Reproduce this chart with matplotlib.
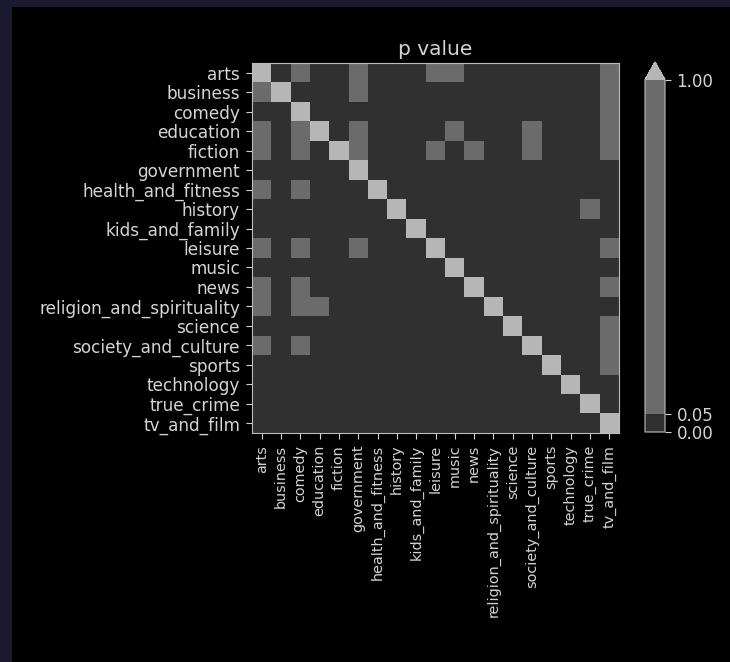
import matplotlib
matplotlib.use('Agg')
import matplotlib.pyplot as plt
from matplotlib.colors import ListedColormap, BoundaryNorm
from matplotlib.patches import Rectangle
import numpy as np

categories = ['arts', 'business', 'comedy', 'education', 'fiction', 'government',
              'health_and_fitness', 'history', 'kids_and_family', 'leisure', 'music',
              'news', 'religion_and_spirituality', 'science', 'society_and_culture',
              'sports', 'technology', 'true_crime', 'tv_and_film']

# estimated p values (dark cells < 0.05, mid cells between 0.05 and 1, diagonal = 1)
p_values = [
    [1, 0, .5, 0, 0, .5, 0, 0, 0, .5, .5, 0, 0, 0, 0, 0, 0, 0, .5],
    [.5, 1, 0, 0, 0, .5, 0, 0, 0, 0, 0, 0, 0, 0, 0, 0, 0, 0, .5],
    [0, 0, 1, 0, 0, 0, 0, 0, 0, 0, 0, 0, 0, 0, 0, 0, 0, 0, .5],
    [.5, 0, .5, 1, 0, .5, 0, 0, 0, 0, .5, 0, 0, 0, .5, 0, 0, 0, .5],
    [.5, 0, .5, 0, 1, .5, 0, 0, 0, .5, 0, .5, 0, 0, .5, 0, 0, 0, .5],
    [0, 0, 0, 0, 0, 1, 0, 0, 0, 0, 0, 0, 0, 0, 0, 0, 0, 0, 0],
    [.5, 0, .5, 0, 0, 0, 1, 0, 0, 0, 0, 0, 0, 0, 0, 0, 0, 0, 0],
    [0, 0, 0, 0, 0, 0, 0, 1, 0, 0, 0, 0, 0, 0, 0, 0, 0, .5, 0],
    [0, 0, 0, 0, 0, 0, 0, 0, 1, 0, 0, 0, 0, 0, 0, 0, 0, 0, 0],
    [.5, 0, .5, 0, 0, .5, 0, 0, 0, 1, 0, 0, 0, 0, 0, 0, 0, 0, .5],
    [0, 0, 0, 0, 0, 0, 0, 0, 0, 0, 1, 0, 0, 0, 0, 0, 0, 0, 0],
    [.5, 0, .5, 0, 0, 0, 0, 0, 0, 0, 0, 1, 0, 0, 0, 0, 0, 0, .5],
    [.5, 0, .5, .5, 0, 0, 0, 0, 0, 0, 0, 0, 1, 0, 0, 0, 0, 0, 0],
    [0, 0, 0, 0, 0, 0, 0, 0, 0, 0, 0, 0, 0, 1, 0, 0, 0, 0, .5],
    [.5, 0, .5, 0, 0, 0, 0, 0, 0, 0, 0, 0, 0, 0, 1, 0, 0, 0, .5],
    [0, 0, 0, 0, 0, 0, 0, 0, 0, 0, 0, 0, 0, 0, 0, 1, 0, 0, .5],
    [0, 0, 0, 0, 0, 0, 0, 0, 0, 0, 0, 0, 0, 0, 0, 0, 1, 0, 0],
    [0, 0, 0, 0, 0, 0, 0, 0, 0, 0, 0, 0, 0, 0, 0, 0, 0, 1, 0],
    [0, 0, 0, 0, 0, 0, 0, 0, 0, 0, 0, 0, 0, 0, 0, 0, 0, 0, 1],
]
bounds = [0, 0.05, 1.0]

txt = '#d4d4d4'
edge = '#bdbdbd'
plt.rcParams['text.color'] = txt
plt.rcParams['xtick.color'] = txt
plt.rcParams['ytick.color'] = txt
plt.rcParams['axes.edgecolor'] = edge

fig = plt.figure(figsize=(7.30, 6.62), dpi=100, facecolor='#1b1a30')
fig.patches.append(Rectangle((12/730, 0), 1, (662-7)/662, transform=fig.transFigure,
                             facecolor='black', edgecolor='none', zorder=-1))

cmap = ListedColormap(['#303030', '#6b6b6b'])
cmap.set_over('#b6b6b6')
norm = BoundaryNorm(bounds, cmap.N)

ax = fig.add_axes([252/730, 1-433/662, 367/730, 370/662])
im = ax.imshow(np.array(p_values), cmap=cmap, norm=norm, aspect='auto')
ax.set_xticks(range(len(categories)))
ax.set_xticklabels(categories, rotation=90, fontsize=10.4)
ax.set_yticks(range(len(categories)))
ax.set_yticklabels(categories, fontsize=12.2)
ax.tick_params(axis='y', length=4.3, pad=4.3)
ax.tick_params(axis='x', length=4.5, pad=4.0)
ax.set_title('p value', color=txt, fontsize=14.5, pad=6)

cax = fig.add_axes([645/730, 1-432/662, 20/730, 370/662])
cb = fig.colorbar(im, cax=cax, extend='max', spacing='proportional', ticks=bounds)
cb.ax.set_yticklabels(['0.00', '0.05', '1.00'], fontsize=12)
cb.ax.tick_params(length=4.3, pad=4)
cb.outline.set_edgecolor(edge)

fig.savefig('out.png', dpi=100, facecolor=fig.get_facecolor())
